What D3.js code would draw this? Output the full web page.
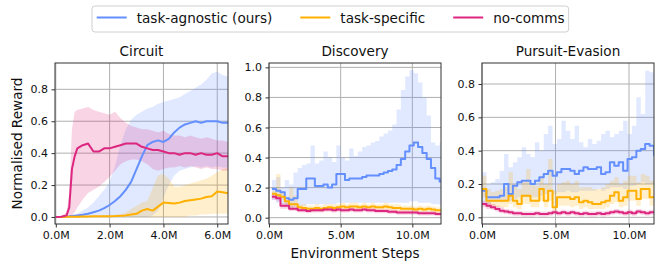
<!DOCTYPE html>
<html>
<head>
<meta charset="utf-8">
<script src="https://cdn.jsdelivr.net/npm/d3@7.9.0/dist/d3.min.js"></script>
<style>
  body { margin: 0; background: #fff; }
  svg { display: block; font-family: "DejaVu Sans", sans-serif; }
</style>
</head>
<body>
<svg id="chart" width="664" height="274"></svg>
<script>
// ---- data (millions of environment steps, normalised reward) ----
const seriesNames = ['task-agnostic (ours)', 'task-specific', 'no-comms'];
const seriesColors = ['#648fff', '#ffb000', '#dc267f'];
const panelTitles = ['Circuit', 'Discovery', 'Pursuit-Evasion'];

// Circuit
const circuitSteps = [0, 0.2, 0.4, 0.5, 0.6, 0.7, 0.8, 1.0, 1.2, 1.4, 1.6, 1.8, 2.0, 2.2, 2.4, 2.6, 2.8, 3.0, 3.2, 3.4, 3.6, 3.8, 4.0, 4.2, 4.4, 4.6, 4.8, 5.0, 5.2, 5.4, 5.6, 5.8, 6.0, 6.2, 6.4];
const circuitAgnostic = [0, 0, 0.003, 0.004, 0.006, 0.008, 0.01, 0.014, 0.02, 0.03, 0.04, 0.055, 0.075, 0.1, 0.13, 0.17, 0.22, 0.3, 0.38, 0.45, 0.47, 0.48, 0.47, 0.49, 0.53, 0.56, 0.58, 0.59, 0.6, 0.59, 0.6, 0.6, 0.6, 0.59, 0.59];
const circuitAgnosticHi = [0, 0, 0.005, 0.007, 0.01, 0.015, 0.02, 0.04, 0.06, 0.09, 0.13, 0.17, 0.22, 0.32, 0.45, 0.55, 0.61, 0.64, 0.66, 0.68, 0.69, 0.71, 0.72, 0.73, 0.74, 0.75, 0.77, 0.79, 0.81, 0.83, 0.86, 0.9, 0.91, 0.89, 0.88];
const circuitAgnosticLo = [0, 0, 0, 0, 0, 0, 0, 0, 0, 0, 0, 0, 0, 0, 0, 0, 0, 0, 0, 0, 0.01, 0.04, 0.12, 0.2, 0.26, 0.29, 0.3, 0.31, 0.32, 0.31, 0.32, 0.31, 0.32, 0.31, 0.31];
const circuitSpecific = [0, 0, 0.001, 0.001, 0.002, 0.002, 0.002, 0.003, 0.003, 0.004, 0.004, 0.005, 0.005, 0.006, 0.008, 0.01, 0.015, 0.02, 0.04, 0.05, 0.04, 0.065, 0.09, 0.088, 0.085, 0.09, 0.1, 0.105, 0.11, 0.115, 0.125, 0.13, 0.16, 0.155, 0.148];
const circuitSpecificHi = [0, 0, 0.002, 0.002, 0.003, 0.003, 0.004, 0.005, 0.006, 0.007, 0.008, 0.009, 0.01, 0.011, 0.013, 0.03, 0.05, 0.07, 0.09, 0.1, 0.18, 0.26, 0.27, 0.24, 0.19, 0.19, 0.2, 0.21, 0.22, 0.23, 0.24, 0.26, 0.28, 0.3, 0.31];
const circuitSpecificLo = [0, 0, 0, 0, 0, 0, 0, 0, 0, 0, 0, 0, 0, 0, 0, 0, 0, 0, 0, 0, 0, 0, 0, 0, 0, 0, 0, 0.01, 0.01, 0.015, 0.015, 0.02, 0.02, 0.02, 0.02];
const circuitNoComms = [0, 0.002, 0.01, 0.06, 0.3, 0.38, 0.43, 0.45, 0.46, 0.41, 0.41, 0.43, 0.43, 0.44, 0.45, 0.46, 0.46, 0.46, 0.44, 0.43, 0.42, 0.42, 0.41, 0.4, 0.4, 0.39, 0.4, 0.4, 0.39, 0.4, 0.39, 0.39, 0.4, 0.38, 0.38];
const circuitNoCommsHi = [0, 0.005, 0.03, 0.15, 0.55, 0.66, 0.67, 0.68, 0.69, 0.67, 0.66, 0.65, 0.64, 0.66, 0.62, 0.59, 0.57, 0.56, 0.55, 0.55, 0.54, 0.53, 0.54, 0.52, 0.51, 0.51, 0.5, 0.51, 0.5, 0.49, 0.5, 0.49, 0.48, 0.48, 0.47];
const circuitNoCommsLo = [0, 0, 0, 0, 0.01, 0.03, 0.06, 0.11, 0.15, 0.17, 0.19, 0.22, 0.25, 0.29, 0.33, 0.35, 0.36, 0.36, 0.35, 0.33, 0.3, 0.29, 0.3, 0.31, 0.31, 0.32, 0.31, 0.32, 0.31, 0.3, 0.31, 0.3, 0.3, 0.29, 0.29];

// Discovery
const discoverySteps = [0.2, 0.5, 0.8, 1.1, 1.4, 1.7, 2.0, 2.3, 2.6, 2.9, 3.2, 3.5, 3.8, 4.1, 4.4, 4.7, 5.0, 5.3, 5.6, 5.9, 6.2, 6.5, 6.8, 7.1, 7.4, 7.7, 8.0, 8.3, 8.6, 8.9, 9.2, 9.5, 9.8, 10.1, 10.4, 10.7, 11.0, 11.3, 11.6, 11.9, 12.0];
const discoveryAgnostic = [0.19, 0.18, 0.17, 0.13, 0.12, 0.13, 0.19, 0.19, 0.26, 0.26, 0.21, 0.21, 0.22, 0.2, 0.22, 0.29, 0.29, 0.25, 0.26, 0.26, 0.26, 0.27, 0.28, 0.28, 0.28, 0.29, 0.3, 0.31, 0.32, 0.35, 0.39, 0.44, 0.48, 0.5, 0.47, 0.43, 0.39, 0.33, 0.26, 0.24, 0.24];
const discoveryAgnosticHi = [0.25, 0.27, 0.2, 0.25, 0.22, 0.3, 0.33, 0.35, 0.36, 0.48, 0.36, 0.38, 0.44, 0.4, 0.37, 0.48, 0.4, 0.38, 0.46, 0.41, 0.44, 0.47, 0.48, 0.5, 0.51, 0.54, 0.56, 0.58, 0.62, 0.72, 0.85, 0.94, 0.98, 0.96, 0.9, 0.8, 0.68, 0.5, 0.48, 0.5, 0.5];
const discoveryAgnosticLo = [0.12, 0.1, 0.09, 0.07, 0.06, 0.07, 0.08, 0.08, 0.09, 0.09, 0.09, 0.09, 0.09, 0.09, 0.09, 0.1, 0.1, 0.1, 0.1, 0.1, 0.1, 0.1, 0.1, 0.1, 0.1, 0.1, 0.1, 0.1, 0.1, 0.1, 0.1, 0.1, 0.11, 0.11, 0.1, 0.1, 0.1, 0.09, 0.09, 0.08, 0.08];
const discoverySpecific = [0.16, 0.15, 0.14, 0.11, 0.09, 0.09, 0.07, 0.065, 0.06, 0.06, 0.065, 0.06, 0.065, 0.07, 0.065, 0.07, 0.075, 0.07, 0.075, 0.075, 0.07, 0.075, 0.07, 0.075, 0.07, 0.07, 0.075, 0.07, 0.065, 0.065, 0.06, 0.06, 0.06, 0.055, 0.06, 0.055, 0.06, 0.055, 0.05, 0.05, 0.05];
const discoverySpecificHi = [0.18, 0.29, 0.17, 0.14, 0.2, 0.15, 0.09, 0.09, 0.08, 0.08, 0.09, 0.08, 0.09, 0.09, 0.09, 0.09, 0.1, 0.09, 0.1, 0.1, 0.09, 0.1, 0.09, 0.1, 0.09, 0.09, 0.1, 0.09, 0.09, 0.09, 0.08, 0.08, 0.08, 0.075, 0.08, 0.075, 0.08, 0.075, 0.07, 0.07, 0.07];
const discoverySpecificLo = [0.14, 0.13, 0.12, 0.09, 0.07, 0.07, 0.05, 0.045, 0.04, 0.04, 0.045, 0.04, 0.045, 0.05, 0.045, 0.05, 0.055, 0.05, 0.055, 0.055, 0.05, 0.055, 0.05, 0.055, 0.05, 0.05, 0.055, 0.05, 0.045, 0.045, 0.04, 0.04, 0.04, 0.035, 0.04, 0.035, 0.04, 0.035, 0.03, 0.03, 0.03];
const discoveryNoComms = [0.14, 0.13, 0.08, 0.08, 0.06, 0.06, 0.05, 0.05, 0.045, 0.05, 0.05, 0.05, 0.055, 0.055, 0.05, 0.055, 0.05, 0.05, 0.055, 0.05, 0.05, 0.055, 0.05, 0.05, 0.045, 0.045, 0.045, 0.04, 0.04, 0.035, 0.035, 0.035, 0.035, 0.035, 0.03, 0.03, 0.03, 0.03, 0.025, 0.025, 0.025];
const discoveryNoCommsHi = [0.16, 0.15, 0.1, 0.1, 0.08, 0.075, 0.065, 0.065, 0.06, 0.065, 0.065, 0.065, 0.07, 0.07, 0.065, 0.07, 0.065, 0.065, 0.07, 0.065, 0.065, 0.07, 0.065, 0.065, 0.06, 0.06, 0.06, 0.055, 0.055, 0.05, 0.05, 0.05, 0.05, 0.05, 0.045, 0.045, 0.045, 0.045, 0.04, 0.04, 0.04];
const discoveryNoCommsLo = [0.12, 0.11, 0.06, 0.06, 0.045, 0.045, 0.035, 0.035, 0.03, 0.035, 0.035, 0.035, 0.04, 0.04, 0.035, 0.04, 0.035, 0.035, 0.04, 0.035, 0.035, 0.04, 0.035, 0.035, 0.03, 0.03, 0.03, 0.025, 0.025, 0.02, 0.02, 0.02, 0.02, 0.02, 0.015, 0.015, 0.015, 0.015, 0.01, 0.01, 0.01];

// Pursuit-Evasion
const pursuitSteps = [0, 0.3, 0.6, 0.9, 1.2, 1.5, 1.8, 2.1, 2.4, 2.7, 3.0, 3.3, 3.6, 3.9, 4.2, 4.5, 4.8, 5.1, 5.4, 5.7, 6.0, 6.3, 6.6, 6.9, 7.2, 7.5, 7.8, 8.1, 8.4, 8.7, 9.0, 9.3, 9.6, 9.9, 10.2, 10.5, 10.8, 11.1, 11.4, 11.7];
const pursuitAgnostic = [0.16, 0.12, 0.12, 0.12, 0.13, 0.2, 0.14, 0.19, 0.21, 0.22, 0.22, 0.2, 0.22, 0.24, 0.26, 0.28, 0.25, 0.27, 0.29, 0.29, 0.28, 0.26, 0.28, 0.3, 0.29, 0.29, 0.3, 0.26, 0.27, 0.33, 0.31, 0.33, 0.28, 0.35, 0.36, 0.4, 0.41, 0.44, 0.43, 0.37];
const pursuitAgnosticHi = [0.27, 0.2, 0.21, 0.23, 0.28, 0.38, 0.3, 0.33, 0.36, 0.42, 0.38, 0.36, 0.45, 0.4, 0.5, 0.55, 0.44, 0.47, 0.58, 0.52, 0.47, 0.55, 0.45, 0.42, 0.47, 0.44, 0.46, 0.5, 0.52, 0.48, 0.5, 0.52, 0.58, 0.5, 0.55, 0.72, 0.62, 0.88, 0.87, 0.85];
const pursuitAgnosticLo = [0.08, 0.08, 0.09, 0.09, 0.09, 0.1, 0.1, 0.11, 0.12, 0.12, 0.12, 0.12, 0.12, 0.13, 0.14, 0.15, 0.14, 0.15, 0.15, 0.16, 0.15, 0.15, 0.16, 0.16, 0.16, 0.16, 0.17, 0.16, 0.17, 0.18, 0.18, 0.18, 0.17, 0.19, 0.19, 0.2, 0.21, 0.2, 0.2, 0.19];
const pursuitSpecific = [0.17, 0.1, 0.1, 0.1, 0.1, 0.1, 0.13, 0.1, 0.08, 0.13, 0.13, 0.1, 0.1, 0.17, 0.1, 0.16, 0.06, 0.12, 0.12, 0.12, 0.11, 0.12, 0.09, 0.1, 0.09, 0.08, 0.08, 0.09, 0.1, 0.13, 0.15, 0.1, 0.12, 0.16, 0.16, 0.11, 0.17, 0.17, 0.12, 0.12];
const pursuitSpecificHi = [0.25, 0.17, 0.15, 0.16, 0.17, 0.18, 0.27, 0.2, 0.17, 0.22, 0.29, 0.2, 0.19, 0.25, 0.2, 0.35, 0.16, 0.2, 0.21, 0.22, 0.2, 0.22, 0.18, 0.18, 0.18, 0.17, 0.17, 0.18, 0.2, 0.22, 0.24, 0.2, 0.22, 0.25, 0.25, 0.21, 0.26, 0.25, 0.22, 0.2];
const pursuitSpecificLo = [0.12, 0.06, 0.06, 0.06, 0.06, 0.06, 0.08, 0.06, 0.05, 0.08, 0.08, 0.06, 0.06, 0.1, 0.06, 0.1, 0.04, 0.07, 0.07, 0.07, 0.06, 0.07, 0.05, 0.06, 0.05, 0.05, 0.05, 0.05, 0.06, 0.08, 0.09, 0.06, 0.07, 0.1, 0.1, 0.07, 0.11, 0.11, 0.07, 0.07];
const pursuitNoComms = [0.08, 0.07, 0.06, 0.05, 0.04, 0.035, 0.03, 0.025, 0.025, 0.02, 0.02, 0.02, 0.025, 0.02, 0.02, 0.025, 0.03, 0.025, 0.03, 0.025, 0.03, 0.025, 0.02, 0.025, 0.02, 0.02, 0.025, 0.02, 0.025, 0.03, 0.035, 0.03, 0.025, 0.03, 0.025, 0.035, 0.03, 0.025, 0.03, 0.035];
const pursuitNoCommsHi = [0.1, 0.09, 0.08, 0.07, 0.06, 0.05, 0.045, 0.04, 0.04, 0.035, 0.035, 0.035, 0.04, 0.035, 0.035, 0.04, 0.045, 0.04, 0.045, 0.04, 0.045, 0.04, 0.035, 0.04, 0.035, 0.035, 0.04, 0.035, 0.04, 0.045, 0.05, 0.045, 0.04, 0.045, 0.04, 0.05, 0.045, 0.04, 0.045, 0.05];
const pursuitNoCommsLo = [0.06, 0.05, 0.045, 0.035, 0.025, 0.02, 0.015, 0.01, 0.01, 0.005, 0.005, 0.005, 0.01, 0.005, 0.005, 0.01, 0.015, 0.01, 0.015, 0.01, 0.015, 0.01, 0.005, 0.01, 0.005, 0.005, 0.01, 0.005, 0.01, 0.015, 0.02, 0.015, 0.01, 0.015, 0.01, 0.02, 0.015, 0.01, 0.015, 0.02];

// tick values
const circuitXTicks = [0, 2, 4, 6];
const longXTicks = [0, 5, 10];
const circuitYTicks = [0, 0.2, 0.4, 0.6, 0.8];
const discoveryYTicks = [0, 0.2, 0.4, 0.6, 0.8, 1.0];
const pursuitYTicks = [0, 0.2, 0.4, 0.6, 0.8];

// ---- layout ----
const plotTop = 63, plotBottom = 224;

const panels = [
  {
    title: panelTitles[0], steps: circuitSteps, left: 55, right: 228,
    xDomain: [-0.03, 6.4], yDomain: [-0.044, 0.965],
    xTicks: circuitXTicks, yTicks: circuitYTicks, curve: d3.curveLinear,
    series: [
      [circuitAgnostic, circuitAgnosticLo, circuitAgnosticHi],
      [circuitSpecific, circuitSpecificLo, circuitSpecificHi],
      [circuitNoComms, circuitNoCommsLo, circuitNoCommsHi]
    ]
  },
  {
    title: panelTitles[1], steps: discoverySteps, left: 269, right: 441,
    xDomain: [0, 12], yDomain: [-0.042, 1.029],
    xTicks: longXTicks, yTicks: discoveryYTicks, curve: d3.curveStepAfter,
    series: [
      [discoveryAgnostic, discoveryAgnosticLo, discoveryAgnosticHi],
      [discoverySpecific, discoverySpecificLo, discoverySpecificHi],
      [discoveryNoComms, discoveryNoCommsLo, discoveryNoCommsHi]
    ]
  },
  {
    title: panelTitles[2], steps: pursuitSteps, left: 482, right: 654,
    xDomain: [0, 11.7], yDomain: [-0.04, 0.926],
    xTicks: longXTicks, yTicks: pursuitYTicks, curve: d3.curveStepAfter,
    series: [
      [pursuitAgnostic, pursuitAgnosticLo, pursuitAgnosticHi],
      [pursuitSpecific, pursuitSpecificLo, pursuitSpecificHi],
      [pursuitNoComms, pursuitNoCommsLo, pursuitNoCommsHi]
    ]
  }
];

const svg = d3.select('#chart');
const fmtY = d3.format('.1f');
const fmtX = (d) => d3.format('.1f')(d) + 'M';

function drawPanel(p, idx) {
  let x = d3.scaleLinear().domain(p.xDomain).range([p.left, p.right]);
  let y = d3.scaleLinear().domain(p.yDomain).range([plotBottom, plotTop]);
  let g = svg.append('g');

  g.append('clipPath').attr('id', 'clip' + idx)
    .append('rect')
    .attr('x', p.left).attr('y', plotTop)
    .attr('width', p.right - p.left).attr('height', plotBottom - plotTop);

  // grid
  g.append('g').selectAll('line').data(p.xTicks).join('line')
    .attr('x1', (d) => x(d)).attr('x2', (d) => x(d))
    .attr('y1', plotTop).attr('y2', plotBottom)
    .attr('stroke', '#b0b0b0').attr('stroke-width', 1);
  g.append('g').selectAll('line').data(p.yTicks).join('line')
    .attr('x1', p.left).attr('x2', p.right)
    .attr('y1', (d) => y(d)).attr('y2', (d) => y(d))
    .attr('stroke', '#b0b0b0').attr('stroke-width', 1);

  let plot = g.append('g').attr('clip-path', `url(#clip${idx})`);
  let index = d3.range(p.steps.length);

  // shaded bands first, then the mean lines
  p.series.forEach(([mean, lo, hi], s) => {
    let area = d3.area()
      .x((i) => x(p.steps[i]))
      .y0((i) => y(lo[i]))
      .y1((i) => y(hi[i]))
      .curve(p.curve);
    plot.append('path')
      .attr('d', area(index))
      .attr('fill', seriesColors[s])
      .attr('fill-opacity', 0.2);
  });
  p.series.forEach(([mean], s) => {
    let line = d3.line()
      .x((i) => x(p.steps[i]))
      .y((i) => y(mean[i]))
      .curve(p.curve);
    plot.append('path')
      .attr('d', line(index))
      .attr('fill', 'none')
      .attr('stroke', seriesColors[s])
      .attr('stroke-width', 2)
      .attr('stroke-linejoin', 'round');
  });

  // axes
  let xAxis = g.append('g')
    .attr('transform', `translate(0,${plotBottom})`)
    .call(d3.axisBottom(x).tickValues(p.xTicks).tickFormat(fmtX).tickSize(3.5).tickPadding(3.5));
  let yAxis = g.append('g')
    .attr('transform', `translate(${p.left},0)`)
    .call(d3.axisLeft(y).tickValues(p.yTicks).tickFormat(fmtY).tickSize(3.5).tickPadding(3.5));
  [xAxis, yAxis].forEach((a) => {
    a.select('.domain').remove();
    a.selectAll('line').attr('stroke', '#333');
    a.selectAll('text')
      .attr('font-size', 11)
      .attr('font-family', '"DejaVu Sans", sans-serif')
      .attr('fill', '#111');
  });

  // frame
  g.append('rect')
    .attr('x', p.left).attr('y', plotTop)
    .attr('width', p.right - p.left).attr('height', plotBottom - plotTop)
    .attr('fill', 'none').attr('stroke', '#333').attr('stroke-width', 1);

  g.append('text')
    .attr('x', (p.left + p.right) / 2).attr('y', 56)
    .attr('text-anchor', 'middle')
    .attr('font-size', 13.6)
    .attr('fill', '#111')
    .text(p.title);
}

panels.forEach(drawPanel);

// axis labels
svg.append('text')
  .attr('transform', `translate(22,${(plotTop + plotBottom) / 2}) rotate(-90)`)
  .attr('text-anchor', 'middle')
  .attr('font-size', 13.6)
  .attr('fill', '#111')
  .text('Normalised Reward');

svg.append('text')
  .attr('x', (panels[1].left + panels[1].right) / 2).attr('y', 258)
  .attr('text-anchor', 'middle')
  .attr('font-size', 13.6)
  .attr('fill', '#111')
  .text('Environment Steps');

// legend
let legend = svg.append('g');
let legendBox = legend.append('rect')
  .attr('x', 92).attr('y', 6).attr('height', 26)
  .attr('rx', 3)
  .attr('fill', '#fff').attr('stroke', '#d0d0d0').attr('stroke-width', 1);

let cursor = 96.7;
seriesNames.forEach((name, s) => {
  legend.append('line')
    .attr('x1', cursor).attr('x2', cursor + 30)
    .attr('y1', 17.5).attr('y2', 17.5)
    .attr('stroke', seriesColors[s]).attr('stroke-width', 2);
  let t = legend.append('text')
    .attr('x', cursor + 40).attr('y', 22.5)
    .attr('font-size', 13.6)
    .attr('fill', '#111')
    .text(name);
  let w = t.node().getComputedTextLength();
  cursor = cursor + 40 + w + (s < seriesNames.length - 1 ? 28 : 4);
});
legendBox.attr('width', cursor - 92);
</script>
</body>
</html>
